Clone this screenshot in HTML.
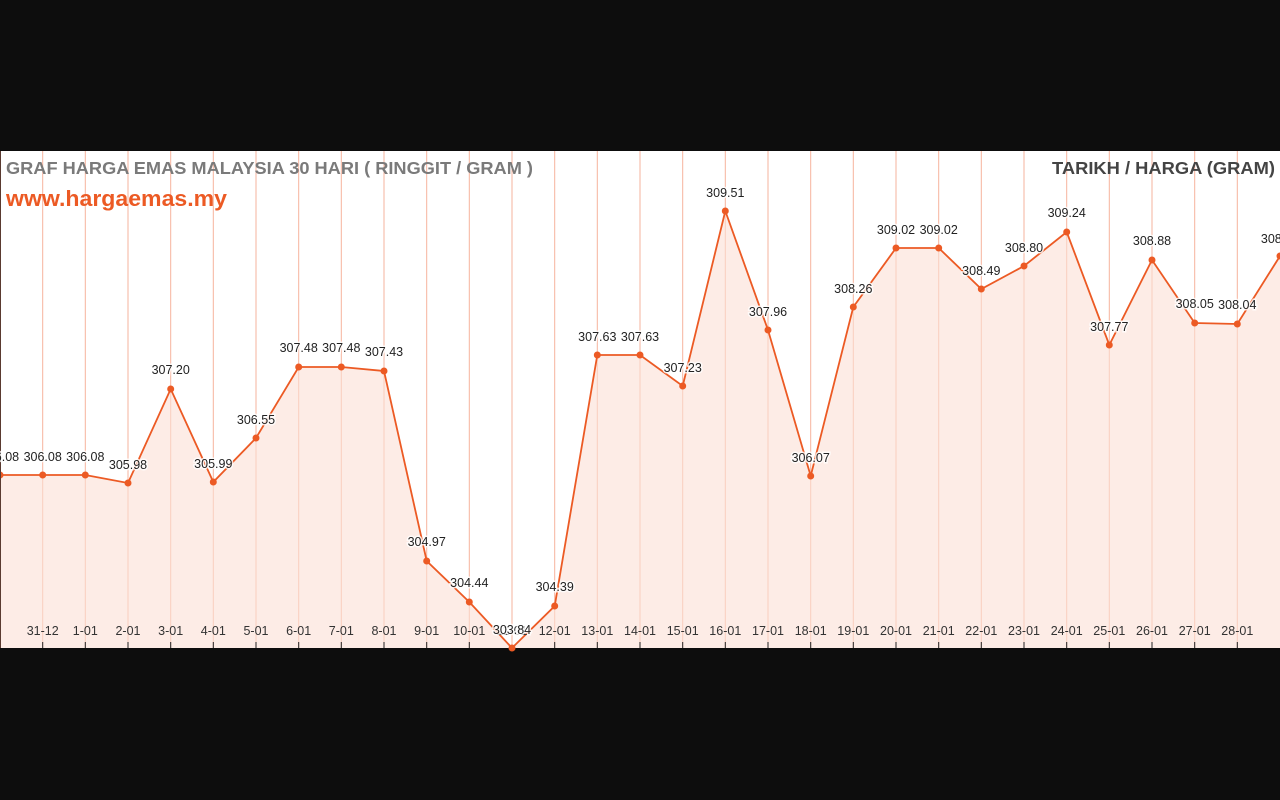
<!DOCTYPE html>
<html><head><meta charset="utf-8"><style>
html,body{margin:0;padding:0;background:#0d0d0d;width:1280px;height:800px;overflow:hidden}
svg{position:absolute;left:0;top:0}
.t{font-family:"Liberation Sans",sans-serif}
.l{font-family:"Liberation Sans",sans-serif;font-size:12.5px;fill:#222;text-anchor:middle;stroke:#fff;stroke-width:3px;paint-order:stroke;stroke-opacity:.8}
.a{font-family:"Liberation Sans",sans-serif;font-size:12.5px;fill:#333;text-anchor:middle}
</style></head><body>
<svg width="1280" height="800" viewBox="0 0 1280 800">
<rect x="0" y="151" width="1280" height="497" fill="#fff"/>
<g stroke="#f6b39d" stroke-width="1">
<line x1="42.7" y1="151" x2="42.7" y2="648"/><line x1="85.3" y1="151" x2="85.3" y2="648"/><line x1="128" y1="151" x2="128" y2="648"/><line x1="170.7" y1="151" x2="170.7" y2="648"/><line x1="213.3" y1="151" x2="213.3" y2="648"/><line x1="256" y1="151" x2="256" y2="648"/><line x1="298.7" y1="151" x2="298.7" y2="648"/><line x1="341.3" y1="151" x2="341.3" y2="648"/><line x1="384" y1="151" x2="384" y2="648"/><line x1="426.7" y1="151" x2="426.7" y2="648"/><line x1="469.3" y1="151" x2="469.3" y2="648"/><line x1="512" y1="151" x2="512" y2="648"/><line x1="554.7" y1="151" x2="554.7" y2="648"/><line x1="597.3" y1="151" x2="597.3" y2="648"/><line x1="640" y1="151" x2="640" y2="648"/><line x1="682.7" y1="151" x2="682.7" y2="648"/><line x1="725.3" y1="151" x2="725.3" y2="648"/><line x1="768" y1="151" x2="768" y2="648"/><line x1="810.7" y1="151" x2="810.7" y2="648"/><line x1="853.3" y1="151" x2="853.3" y2="648"/><line x1="896" y1="151" x2="896" y2="648"/><line x1="938.7" y1="151" x2="938.7" y2="648"/><line x1="981.3" y1="151" x2="981.3" y2="648"/><line x1="1024" y1="151" x2="1024" y2="648"/><line x1="1066.7" y1="151" x2="1066.7" y2="648"/><line x1="1109.3" y1="151" x2="1109.3" y2="648"/><line x1="1152" y1="151" x2="1152" y2="648"/><line x1="1194.7" y1="151" x2="1194.7" y2="648"/><line x1="1237.3" y1="151" x2="1237.3" y2="648"/>
</g>
<polygon fill="#fbe0d6" fill-opacity="0.6" points="0,648 0,475 42.7,475 85.3,475 128,483 170.7,389 213.3,482 256,438 298.7,367 341.3,367 384,371 426.7,561 469.3,602 512,648 554.7,606 597.3,355 640,355 682.7,386 725.3,211 768,330 810.7,476 853.3,307 896,248 938.7,248 981.3,289 1024,266 1066.7,232 1109.3,345 1152,260 1194.7,323 1237.3,324 1280,256 1280,648"/>
<polyline fill="none" stroke="#ec5a24" stroke-width="1.8" points="0,475 42.7,475 85.3,475 128,483 170.7,389 213.3,482 256,438 298.7,367 341.3,367 384,371 426.7,561 469.3,602 512,648 554.7,606 597.3,355 640,355 682.7,386 725.3,211 768,330 810.7,476 853.3,307 896,248 938.7,248 981.3,289 1024,266 1066.7,232 1109.3,345 1152,260 1194.7,323 1237.3,324 1280,256"/>
<g fill="#ec5a24">
<circle cx="0" cy="475" r="3.5"/><circle cx="42.7" cy="475" r="3.5"/><circle cx="85.3" cy="475" r="3.5"/><circle cx="128" cy="483" r="3.5"/><circle cx="170.7" cy="389" r="3.5"/><circle cx="213.3" cy="482" r="3.5"/><circle cx="256" cy="438" r="3.5"/><circle cx="298.7" cy="367" r="3.5"/><circle cx="341.3" cy="367" r="3.5"/><circle cx="384" cy="371" r="3.5"/><circle cx="426.7" cy="561" r="3.5"/><circle cx="469.3" cy="602" r="3.5"/><circle cx="512" cy="648" r="3.5"/><circle cx="554.7" cy="606" r="3.5"/><circle cx="597.3" cy="355" r="3.5"/><circle cx="640" cy="355" r="3.5"/><circle cx="682.7" cy="386" r="3.5"/><circle cx="725.3" cy="211" r="3.5"/><circle cx="768" cy="330" r="3.5"/><circle cx="810.7" cy="476" r="3.5"/><circle cx="853.3" cy="307" r="3.5"/><circle cx="896" cy="248" r="3.5"/><circle cx="938.7" cy="248" r="3.5"/><circle cx="981.3" cy="289" r="3.5"/><circle cx="1024" cy="266" r="3.5"/><circle cx="1066.7" cy="232" r="3.5"/><circle cx="1109.3" cy="345" r="3.5"/><circle cx="1152" cy="260" r="3.5"/><circle cx="1194.7" cy="323" r="3.5"/><circle cx="1237.3" cy="324" r="3.5"/><circle cx="1280" cy="256" r="3.5"/>
</g>
<g stroke="#222" stroke-width="1">
<line x1="42.7" y1="642" x2="42.7" y2="648"/><line x1="85.3" y1="642" x2="85.3" y2="648"/><line x1="128" y1="642" x2="128" y2="648"/><line x1="170.7" y1="642" x2="170.7" y2="648"/><line x1="213.3" y1="642" x2="213.3" y2="648"/><line x1="256" y1="642" x2="256" y2="648"/><line x1="298.7" y1="642" x2="298.7" y2="648"/><line x1="341.3" y1="642" x2="341.3" y2="648"/><line x1="384" y1="642" x2="384" y2="648"/><line x1="426.7" y1="642" x2="426.7" y2="648"/><line x1="469.3" y1="642" x2="469.3" y2="648"/><line x1="554.7" y1="642" x2="554.7" y2="648"/><line x1="597.3" y1="642" x2="597.3" y2="648"/><line x1="640" y1="642" x2="640" y2="648"/><line x1="682.7" y1="642" x2="682.7" y2="648"/><line x1="725.3" y1="642" x2="725.3" y2="648"/><line x1="768" y1="642" x2="768" y2="648"/><line x1="810.7" y1="642" x2="810.7" y2="648"/><line x1="853.3" y1="642" x2="853.3" y2="648"/><line x1="896" y1="642" x2="896" y2="648"/><line x1="938.7" y1="642" x2="938.7" y2="648"/><line x1="981.3" y1="642" x2="981.3" y2="648"/><line x1="1024" y1="642" x2="1024" y2="648"/><line x1="1066.7" y1="642" x2="1066.7" y2="648"/><line x1="1109.3" y1="642" x2="1109.3" y2="648"/><line x1="1152" y1="642" x2="1152" y2="648"/><line x1="1194.7" y1="642" x2="1194.7" y2="648"/><line x1="1237.3" y1="642" x2="1237.3" y2="648"/>
</g>
<line x1="0.5" y1="151" x2="0.5" y2="648" stroke="#5a3a30" stroke-width="1"/>
<g class="a">
<text x="42.7" y="635">31-12</text><text x="85.3" y="635">1-01</text><text x="128" y="635">2-01</text><text x="170.7" y="635">3-01</text><text x="213.3" y="635">4-01</text><text x="256" y="635">5-01</text><text x="298.7" y="635">6-01</text><text x="341.3" y="635">7-01</text><text x="384" y="635">8-01</text><text x="426.7" y="635">9-01</text><text x="469.3" y="635">10-01</text><text x="512" y="635">11-01</text><text x="554.7" y="635">12-01</text><text x="597.3" y="635">13-01</text><text x="640" y="635">14-01</text><text x="682.7" y="635">15-01</text><text x="725.3" y="635">16-01</text><text x="768" y="635">17-01</text><text x="810.7" y="635">18-01</text><text x="853.3" y="635">19-01</text><text x="896" y="635">20-01</text><text x="938.7" y="635">21-01</text><text x="981.3" y="635">22-01</text><text x="1024" y="635">23-01</text><text x="1066.7" y="635">24-01</text><text x="1109.3" y="635">25-01</text><text x="1152" y="635">26-01</text><text x="1194.7" y="635">27-01</text><text x="1237.3" y="635">28-01</text>
</g>
<g class="l">
<text x="0" y="461">306.08</text><text x="42.7" y="461">306.08</text><text x="85.3" y="461">306.08</text><text x="128" y="469">305.98</text><text x="170.7" y="374">307.20</text><text x="213.3" y="468">305.99</text><text x="256" y="424">306.55</text><text x="298.7" y="352">307.48</text><text x="341.3" y="352">307.48</text><text x="384" y="356">307.43</text><text x="426.7" y="546">304.97</text><text x="469.3" y="587">304.44</text><text x="512" y="634">303.84</text><text x="554.7" y="591">304.39</text><text x="597.3" y="341">307.63</text><text x="640" y="341">307.63</text><text x="682.7" y="372">307.23</text><text x="725.3" y="197">309.51</text><text x="768" y="316">307.96</text><text x="810.7" y="462">306.07</text><text x="853.3" y="293">308.26</text><text x="896" y="234">309.02</text><text x="938.7" y="234">309.02</text><text x="981.3" y="275">308.49</text><text x="1024" y="252">308.80</text><text x="1066.7" y="217">309.24</text><text x="1109.3" y="331">307.77</text><text x="1152" y="245">308.88</text><text x="1194.7" y="308">308.05</text><text x="1237.3" y="309">308.04</text><text x="1280" y="243">308.93</text>
</g>
<text class="t" x="6" y="174" font-size="17.5" font-weight="bold" fill="#7a7a7a" textLength="527" lengthAdjust="spacingAndGlyphs">GRAF HARGA EMAS MALAYSIA 30 HARI ( RINGGIT / GRAM )</text>
<text class="t" x="6" y="206" font-size="22" font-weight="bold" fill="#ec5a24" textLength="221" lengthAdjust="spacingAndGlyphs">www.hargaemas.my</text>
<text class="t" x="1052" y="174" font-size="17.5" font-weight="bold" fill="#444" textLength="223" lengthAdjust="spacingAndGlyphs">TARIKH / HARGA (GRAM)</text>
</svg>
</body></html>
